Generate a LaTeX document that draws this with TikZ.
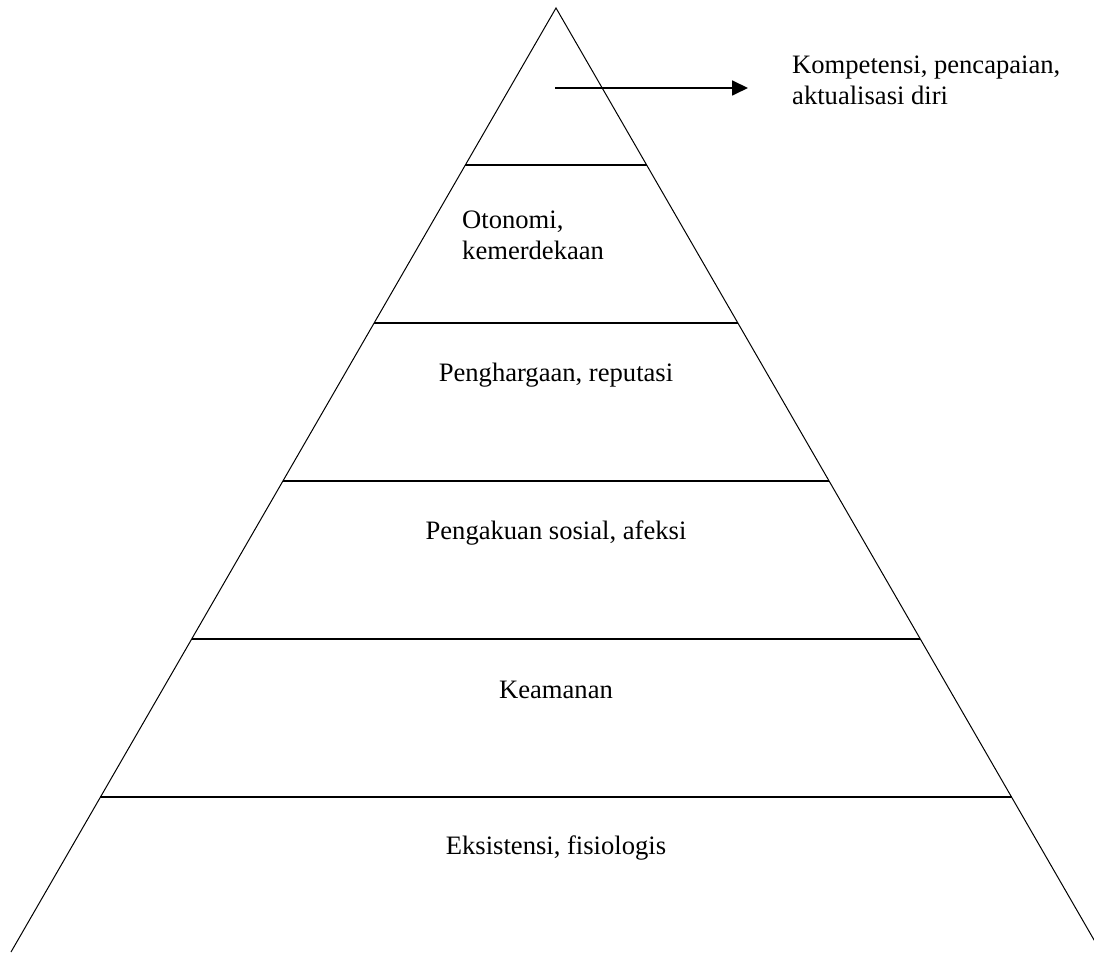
\documentclass[tikz,border=0pt]{standalone}
\usepackage{fontspec}
\setmainfont{Liberation Serif}
\usetikzlibrary{calc,arrows.meta}
\begin{document}
\begin{tikzpicture}[x=1pt,y=1pt,
  side/.style={line width=1pt},
  level/.style={line width=1.6pt},
  lbl/.style={inner sep=0pt,font=\fontsize{26.6}{31}\selectfont},
  arr/.style={line width=1.8pt,-{Triangle[length=16pt,width=15pt]}}]
\useasboundingbox (0,0) rectangle (1094,954);
\clip (0,0) rectangle (1094,954);
\coordinate (apex) at (556,946);
\coordinate (bl) at (11,2);
\coordinate (br) at (1101,2);
\draw[side] (bl) -- (apex) -- (br);
\foreach \t/\n in {0.1663/a,0.3337/b,0.5011/c,0.6684/d,0.8358/e}{
  \coordinate (L\n) at ($(apex)!\t!(bl)$);
  \coordinate (R\n) at ($(apex)!\t!(br)$);
  \draw[level] (L\n) -- (R\n);
}
\coordinate (as) at (555,866);
\coordinate (ae) at (748,866);
\draw[arr] (as) -- (ae);
\node[lbl,anchor=base west,align=left] (top) at (792,849) {Kompetensi, pencapaian,\\aktualisasi diri};
\node[lbl,anchor=base west,align=left] (oto) at (462,694) {Otonomi,\\kemerdekaan};
\node[lbl,anchor=base] (pen) at (556,572) {Penghargaan, reputasi};
\node[lbl,anchor=base] (pak) at (556,414) {Pengakuan sosial, afeksi};
\node[lbl,anchor=base] (kea) at (556,256) {Keamanan};
\node[lbl,anchor=base] (eks) at (556,100) {Eksistensi, fisiologis};
\end{tikzpicture}
\end{document}
